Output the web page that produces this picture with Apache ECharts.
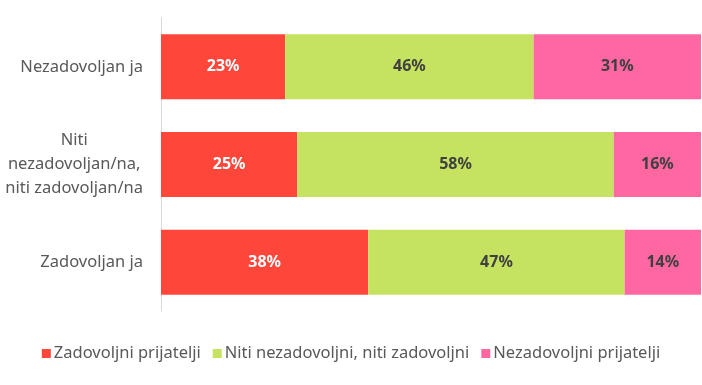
<!DOCTYPE html>
<html>
<head>
<meta charset="utf-8">
<script src="https://cdn.jsdelivr.net/npm/echarts@6/dist/echarts.min.js"></script>
<style>html,body{margin:0;padding:0;background:#fff}#c{width:702px;height:385px}</style>
</head>
<body>
<div id="c"></div>
<script>
var categories = ['Nezadovoljan ja', 'Niti\nnezadovoljan/na,\nniti zadovoljan/na', 'Zadovoljan ja'];
var seriesNames = ['Zadovoljni prijatelji', 'Niti nezadovoljni, niti zadovoljni', 'Nezadovoljni prijatelji'];
var zadovoljni = [23, 25, 38];
var niti = [46, 58, 47];
var nezadovoljni = [31, 16, 14];
var colors = ['#FF463B', '#C5E360', '#FF67A3'];
var labelColors = ['#ffffff', '#404040', '#404040'];

var raw = [zadovoljni, niti, nezadovoljni];
var rowSums = categories.map(function (_, i) { return zadovoljni[i] + niti[i] + nezadovoljni[i]; });

var chart = echarts.init(document.getElementById('c'), null, {renderer: 'canvas'});
var FONT = 'Noto Sans';
chart.setOption({
  animation: false,
  grid: {left: 161, right: 1, top: 18, bottom: 74, containLabel: false},
  xAxis: {type: 'value', min: 0, max: 100, show: false},
  yAxis: {
    type: 'category', inverse: true, data: categories,
    axisLine: {show: true, lineStyle: {color: '#d9d9d9', width: 1}},
    axisTick: {show: false},
    axisLabel: {
      margin: 18, color: '#595959', fontSize: 16.5, fontFamily: FONT, lineHeight: 24,
      formatter: function (v) {
        return v.split('\n').map(function (s) { return '{c|' + s + '}'; }).join('\n');
      },
      rich: {c: {align: 'center', color: '#595959', fontSize: 16.5, fontFamily: FONT, lineHeight: 24}}
    }
  },
  legend: {
    bottom: 18, left: 'center', itemWidth: 9, itemHeight: 9, itemGap: 12, icon: 'rect',
    textStyle: {color: '#595959', fontSize: 16.5, fontFamily: FONT, padding: [0, 0, 0, -2]},
    data: seriesNames
  },
  series: seriesNames.map(function (name, s) {
    return {
      name: name, type: 'bar', stack: 'total', barWidth: 65,
      itemStyle: {color: colors[s]},
      label: {
        show: true, position: 'inside', color: labelColors[s], fontWeight: 'bold',
        fontSize: 16, fontFamily: FONT,
        formatter: function (p) { return raw[s][p.dataIndex] + '%'; }
      },
      data: raw[s].map(function (v, i) { return v / rowSums[i] * 100; })
    };
  })
});
</script>
</body>
</html>
